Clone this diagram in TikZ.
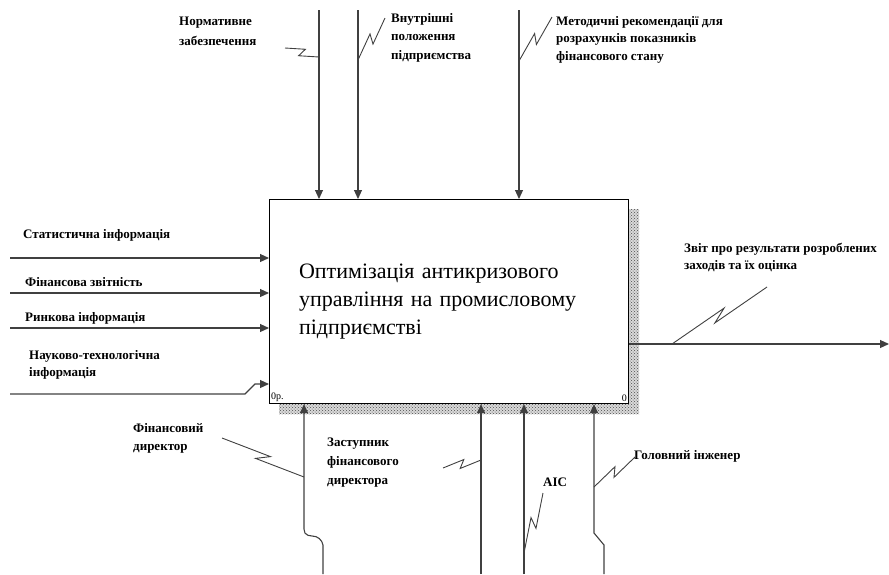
\documentclass[tikz,border=0pt]{standalone}
\usepackage{fontspec}
\setmainfont{Liberation Serif}
\usetikzlibrary{arrows.meta,calc,patterns}

\tikzset{
  flow/.style={draw=black!75, line width=1.1pt, -{Triangle[length=9pt,width=8pt]}},
  lbl/.style={font=\fontsize{13}{19}\selectfont\bfseries, align=left, inner sep=0pt, anchor=north west},
  squig/.style={draw=black!75, line width=0.9pt,
    to path={-- ($(\tikztostart)!0.57!(\tikztotarget)!4pt!90:(\tikztotarget)$)
             -- ($(\tikztostart)!0.43!(\tikztotarget)!4pt!-90:(\tikztotarget)$)
             -- (\tikztotarget)}}
}

\begin{document}
\begin{tikzpicture}[x=1pt,y=-1pt]
\useasboundingbox (0,0) rectangle (889,574);

% The shadow and the activity box
\fill[black!15] (279,209) rectangle (639,414);
\fill[pattern=crosshatch dots, pattern color=black!70] (279,209) rectangle (639,414);
\node[draw, fill=white, line width=1.1pt, anchor=north west,
  minimum width=359pt, minimum height=204pt, text width=300pt, inner xsep=29.5pt,
  align=left, font=\fontsize{22}{28}\selectfont] (act) at (269,199)
  {Оптимізація антикризового\\управління на промисловому\\підприємстві};
\node[anchor=south west, inner sep=2pt, font=\fontsize{10}{10}\selectfont] (num) at (act.south west) {0р.};
\node[anchor=south east, inner sep=2pt, font=\fontsize{10}{10}\selectfont] (idx) at (act.south east) {0};

% The controls from above
\coordinate (c1) at (319,10);
\coordinate (c2) at (358,10);
\coordinate (c3) at (519,10);
\draw[flow] (c1) -- (c1 |- act.north);
\draw[flow] (c2) -- (c2 |- act.north);
\draw[flow] (c3) -- (c3 |- act.north);

\node[lbl, font=\fontsize{13}{20}\selectfont\bfseries] (norm) at (179,17) {Нормативне\\забезпечення};
\node[lbl, font=\fontsize{13}{18.5}\selectfont\bfseries] (inner) at (391,13) {Внутрішні\\положення\\підприємства};
\node[lbl, font=\fontsize{13}{17.5}\selectfont\bfseries] (method) at (556,16) {Методичні рекомендації для\\розрахунків показників\\фінансового стану};
\coordinate (s1) at (319,57);
\coordinate (s2) at (358,60);
\coordinate (s3) at (519,61);
\draw[squig] (s1) to (285,48);
\draw[squig] (s2) to (385,18);
\draw[squig] (s3) to (552,17);

% The inputs from the left
\coordinate (i1) at (10,258);
\coordinate (i2) at (10,293);
\coordinate (i3) at (10,328);
\coordinate (i4) at (10,394);
\draw[flow] (i1) -- (i1 -| act.west);
\draw[flow] (i2) -- (i2 -| act.west);
\draw[flow] (i3) -- (i3 -| act.west);
\draw[flow] (i4) -- (245,394) -- (255,384) -- (act.west |- 0,384);

\node[lbl] (stat) at (23,229) {Статистична інформація};
\node[lbl] (fin) at (25,277) {Фінансова звітність};
\node[lbl] (market) at (25,312) {Ринкова інформація};
\node[lbl, font=\fontsize{13}{17}\selectfont\bfseries] (sci) at (29,350) {Науково-технологічна\\інформація};

% The output to the right
\coordinate (o1) at (889,344);
\draw[flow] (act.east |- o1) -- (o1);
\node[lbl, font=\fontsize{13}{17}\selectfont\bfseries] (report) at (684,243) {Звіт про результати розроблених\\заходів та їх оцінка};
\coordinate (s4) at (672,344);
\draw[squig] (s4) to (767,287);

% The mechanisms from below
\coordinate (m1) at (323,574);
\coordinate (m2) at (481,574);
\coordinate (m3) at (524,574);
\coordinate (m4) at (604,574);
\draw[flow, rounded corners=2pt] (m1) -- (323,543) -- (318,537) -- (306,535) -- (304,531) -- (act.south -| 304,0);
\draw[flow] (m2) -- (m2 |- act.south);
\draw[flow] (m3) -- (m3 |- act.south);
\draw[flow] (m4) -- (604,545) -- (594,533) -- (act.south -| 594,0);

\node[lbl, font=\fontsize{13}{18}\selectfont\bfseries] (cfo) at (133,423) {Фінансовий\\директор};
\node[lbl] (deputy) at (327,438) {Заступник\\фінансового\\директора};
\node[lbl] (ais) at (543,478) {АІС};
\node[lbl] (eng) at (634,450) {Головний інженер};
\coordinate (s5) at (304,477);
\coordinate (s6) at (481,460);
\coordinate (s7) at (524,553);
\coordinate (s8) at (594,487);
\draw[squig] (s5) to (222,438);
\draw[squig] (s6) to (443,468);
\draw[squig] (s7) to (543,493);
\draw[squig] (s8) to (635,457);

\end{tikzpicture}
\end{document}
